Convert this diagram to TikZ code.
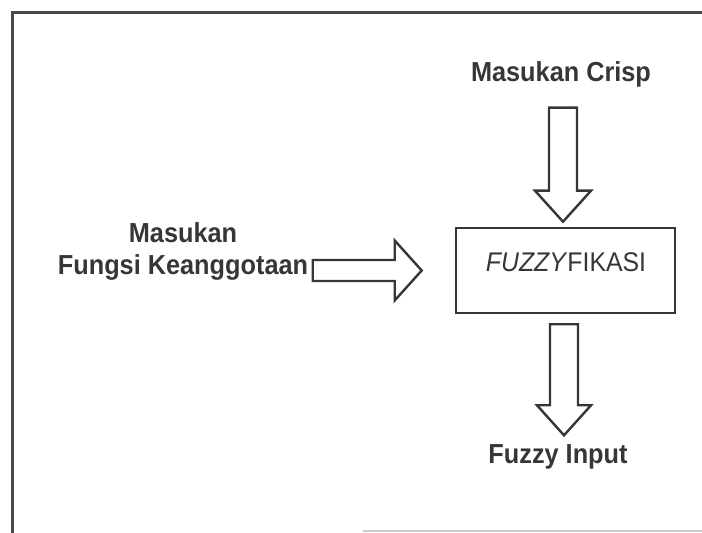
\documentclass[tikz,border=0pt]{standalone}
\usepackage{fontspec}
\setmainfont{Liberation Sans}
\newfontfamily\lblfont[FakeStretch=0.92]{Liberation Sans}
\usetikzlibrary{calc}
\definecolor{ink}{HTML}{363636}
\tikzset{
  x=1pt, y=1pt,
  lbl/.style={text=ink, font=\lblfont\fontsize{27.5}{32}\selectfont\bfseries, inner sep=0pt, align=center},
  boxtxt/.style={text=ink, font=\lblfont\fontsize{27}{32}\selectfont, inner sep=0pt},
  procbox/.style={draw=ink, line width=2.6pt, minimum width=219pt, minimum height=85pt, inner sep=0pt},
  blockarrow/.style={draw=ink, line width=2.4pt, line join=miter, miter limit=10},
  frameline/.style={draw=ink!90, line width=3pt}
}
% down arrow: #1 top centre, #2 tip, #3 shaft half width, #4 head half width, #5 head length
\newcommand\myDownArrow[5]{%
  \draw[blockarrow] ($(#1)+(-#3,0)$) -- ($(#2)+(-#3,#5)$) -- ($(#2)+(-#4,#5)$) -- (#2)
    -- ($(#2)+(#4,#5)$) -- ($(#2)+(#3,#5)$) -- ($(#1)+(#3,0)$) -- cycle;}
% right arrow: #1 tail centre, #2 tip
\newcommand\myRightArrow[5]{%
  \draw[blockarrow] ($(#1)+(0,#3)$) -- ($(#2)+(-#5,#3)$) -- ($(#2)+(-#5,#4)$) -- (#2)
    -- ($(#2)+(-#5,-#4)$) -- ($(#2)+(-#5,-#3)$) -- ($(#1)+(0,-#3)$) -- cycle;}
\begin{document}
\begin{tikzpicture}
\useasboundingbox (0,0) rectangle (702,533);
% frame
\draw[frameline] (12,0) -- (12,520) -- (702,520);
\draw[black!20, line width=1.5pt] (363,2) -- (702,2);
% nodes
\node[procbox] (fz) at (565.5,262.5) {};
\node[boxtxt] (fzt) at ($(fz.center)+(0.5,8.5)$) {\textit{FUZZY}FIKASI};
\node[lbl] (crisp) at (561,459) {Masukan Crisp};
\node[lbl] (mf) at (183,282) {Masukan\\Fungsi Keanggotaan};
\node[lbl] (out) at (558,76) {Fuzzy Input};
% arrow end points
\coordinate (a1tip) at ($(fz.north)+(-2.5,5)$);
\coordinate (a1top) at ($(a1tip)+(0,114)$);
\coordinate (a2tip) at ($(fz.west)+(-33,0)$);
\coordinate (a2tail) at ($(a2tip)+(-109,0)$);
\coordinate (a3top) at ($(fz.south)+(-1.5,-10)$);
\coordinate (a3tip) at ($(a3top)+(0,-111)$);
\myDownArrow{a1top}{a1tip}{14}{28}{31}
\myRightArrow{a2tail}{a2tip}{10.5}{30}{27}
\myDownArrow{a3top}{a3tip}{14}{27}{30}
\end{tikzpicture}
\end{document}
